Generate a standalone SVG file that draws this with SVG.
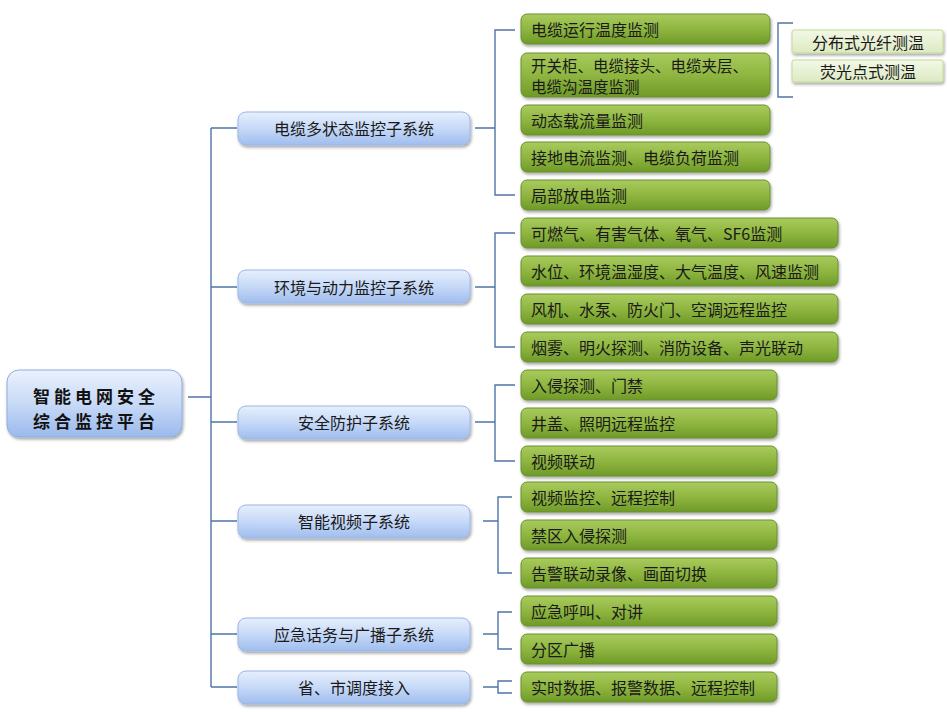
<svg xmlns="http://www.w3.org/2000/svg" width="947" height="712" viewBox="0 0 947 712">
<defs>
<linearGradient id="gBlue" x1="0" y1="0" x2="0" y2="1">
<stop offset="0" stop-color="#e6effd"/><stop offset="0.5" stop-color="#c6d9f7"/><stop offset="1" stop-color="#9fbdee"/>
</linearGradient>
<linearGradient id="gRoot" x1="0" y1="0" x2="0" y2="1">
<stop offset="0" stop-color="#eaf1fd"/><stop offset="0.5" stop-color="#c8daf7"/><stop offset="1" stop-color="#9ab9ec"/>
</linearGradient>
<linearGradient id="gGreen" x1="0" y1="0" x2="0" y2="1">
<stop offset="0" stop-color="#a9cb5e"/><stop offset="0.5" stop-color="#8fb640"/><stop offset="1" stop-color="#6f9a28"/>
</linearGradient>
<linearGradient id="gLight" x1="0" y1="0" x2="0" y2="1">
<stop offset="0" stop-color="#f3f8e6"/><stop offset="1" stop-color="#dceac2"/>
</linearGradient>
<filter id="sh" x="-10%" y="-30%" width="120%" height="170%">
<feDropShadow dx="1" dy="2" stdDeviation="1.5" flood-color="#000" flood-opacity="0.35"/>
</filter>
</defs>
<style>
.root rect{fill:url(#gRoot);stroke:#8eaee0;stroke-width:1;filter:url(#sh)}
.sub rect{fill:url(#gBlue);stroke:#9ab7e6;stroke-width:1;filter:url(#sh)}
.leaf rect{fill:url(#gGreen);stroke:#6b9030;stroke-width:1;filter:url(#sh)}
.det rect{fill:url(#gLight);stroke:#c3d99a;stroke-width:1;filter:url(#sh)}
text{font-family:"Noto Sans CJK SC","Liberation Sans",sans-serif;font-size:16px;fill:#1a1a1a;dominant-baseline:central}
.root text{font-size:17px;font-weight:bold;letter-spacing:4px;text-anchor:middle;fill:#111}
.sub text,.det text{text-anchor:middle}
.leaf text.two{font-size:15.5px}
.conn path{fill:none;stroke:#4f74a8;stroke-width:1.4}
</style>
<g class="conn" id="connectors">
<path d="M188 397H211M211 128V687M211 128H237M211 287H237M211 422H237M211 521H237M211 634H237M211 687H237"/>
<path d="M475 128H495M515 30H495V195H515"/>
<path d="M475 287H495M515 233H495V347H515"/>
<path d="M475 422H495M515 385H495V461H515"/>
<path d="M483 521H498M512 497H498V573H512"/>
<path d="M483 634H498M512 612H498V649H512"/>
<path d="M483 687H498M512 681H498V693H512"/>
<path d="M793 23H778V97H793"/>
</g>
<g class="root" id="root"><rect x="7" y="370" width="175" height="67" rx="12"/><text x="96" y="395">智能电网安全</text><text x="96" y="420">综合监控平台</text></g>
<g class="sub" id="s1"><rect x="238" y="112" width="232" height="33" rx="8"/><text x="354" y="128">电缆多状态监控子系统</text></g>
<g class="sub" id="s2"><rect x="238" y="270" width="232" height="33" rx="8"/><text x="354" y="287">环境与动力监控子系统</text></g>
<g class="sub" id="s3"><rect x="238" y="406" width="232" height="33" rx="8"/><text x="354" y="422">安全防护子系统</text></g>
<g class="sub" id="s4"><rect x="238" y="505" width="232" height="33" rx="8"/><text x="354" y="521">智能视频子系统</text></g>
<g class="sub" id="s5"><rect x="238" y="618" width="232" height="33" rx="8"/><text x="354" y="634">应急话务与广播子系统</text></g>
<g class="sub" id="s6"><rect x="238" y="671" width="232" height="33" rx="8"/><text x="354" y="687">省、市调度接入</text></g>
<g class="leaf" id="l1"><rect x="521" y="14" width="249" height="30" rx="6"/><text x="531" y="29">电缆运行温度监测</text></g>
<g class="leaf" id="l2"><rect x="521" y="53" width="249" height="44" rx="6"/><text class="two" x="531" y="64.5">开关柜、电缆接头、电缆夹层、</text><text class="two" x="531" y="85.5">电缆沟温度监测</text></g>
<g class="leaf" id="l3"><rect x="521" y="105" width="249" height="30" rx="6"/><text x="531" y="120">动态载流量监测</text></g>
<g class="leaf" id="l4"><rect x="521" y="142" width="249" height="30" rx="6"/><text x="531" y="157">接地电流监测、电缆负荷监测</text></g>
<g class="leaf" id="l5"><rect x="521" y="180" width="249" height="30" rx="6"/><text x="531" y="195">局部放电监测</text></g>
<g class="leaf" id="l6"><rect x="521" y="218" width="317" height="30" rx="6"/><text x="531" y="233">可燃气、有害气体、氧气、SF6监测</text></g>
<g class="leaf" id="l7"><rect x="521" y="256" width="317" height="30" rx="6"/><text x="531" y="271">水位、环境温湿度、大气温度、风速监测</text></g>
<g class="leaf" id="l8"><rect x="521" y="294" width="317" height="30" rx="6"/><text x="531" y="309">风机、水泵、防火门、空调远程监控</text></g>
<g class="leaf" id="l9"><rect x="521" y="332" width="317" height="30" rx="6"/><text x="531" y="347">烟雾、明火探测、消防设备、声光联动</text></g>
<g class="leaf" id="l10"><rect x="521" y="370" width="256" height="30" rx="6"/><text x="531" y="385">入侵探测、门禁</text></g>
<g class="leaf" id="l11"><rect x="521" y="408" width="256" height="30" rx="6"/><text x="531" y="423">井盖、照明远程监控</text></g>
<g class="leaf" id="l12"><rect x="521" y="446" width="256" height="30" rx="6"/><text x="531" y="461">视频联动</text></g>
<g class="leaf" id="l13"><rect x="521" y="482" width="256" height="30" rx="6"/><text x="531" y="497">视频监控、远程控制</text></g>
<g class="leaf" id="l14"><rect x="521" y="520" width="256" height="30" rx="6"/><text x="531" y="535">禁区入侵探测</text></g>
<g class="leaf" id="l15"><rect x="521" y="558" width="256" height="30" rx="6"/><text x="531" y="573">告警联动录像、画面切换</text></g>
<g class="leaf" id="l16"><rect x="521" y="596" width="256" height="30" rx="6"/><text x="531" y="611">应急呼叫、对讲</text></g>
<g class="leaf" id="l17"><rect x="521" y="634" width="256" height="30" rx="6"/><text x="531" y="649">分区广播</text></g>
<g class="leaf" id="l18"><rect x="521" y="672" width="256" height="30" rx="6"/><text x="531" y="687">实时数据、报警数据、远程控制</text></g>
<g class="det" id="d1"><rect x="792" y="30" width="151" height="23" rx="2"/><text x="868" y="41.5">分布式光纤测温</text></g>
<g class="det" id="d2"><rect x="792" y="60" width="151" height="22" rx="2"/><text x="868" y="71">荧光点式测温</text></g>
</svg>
